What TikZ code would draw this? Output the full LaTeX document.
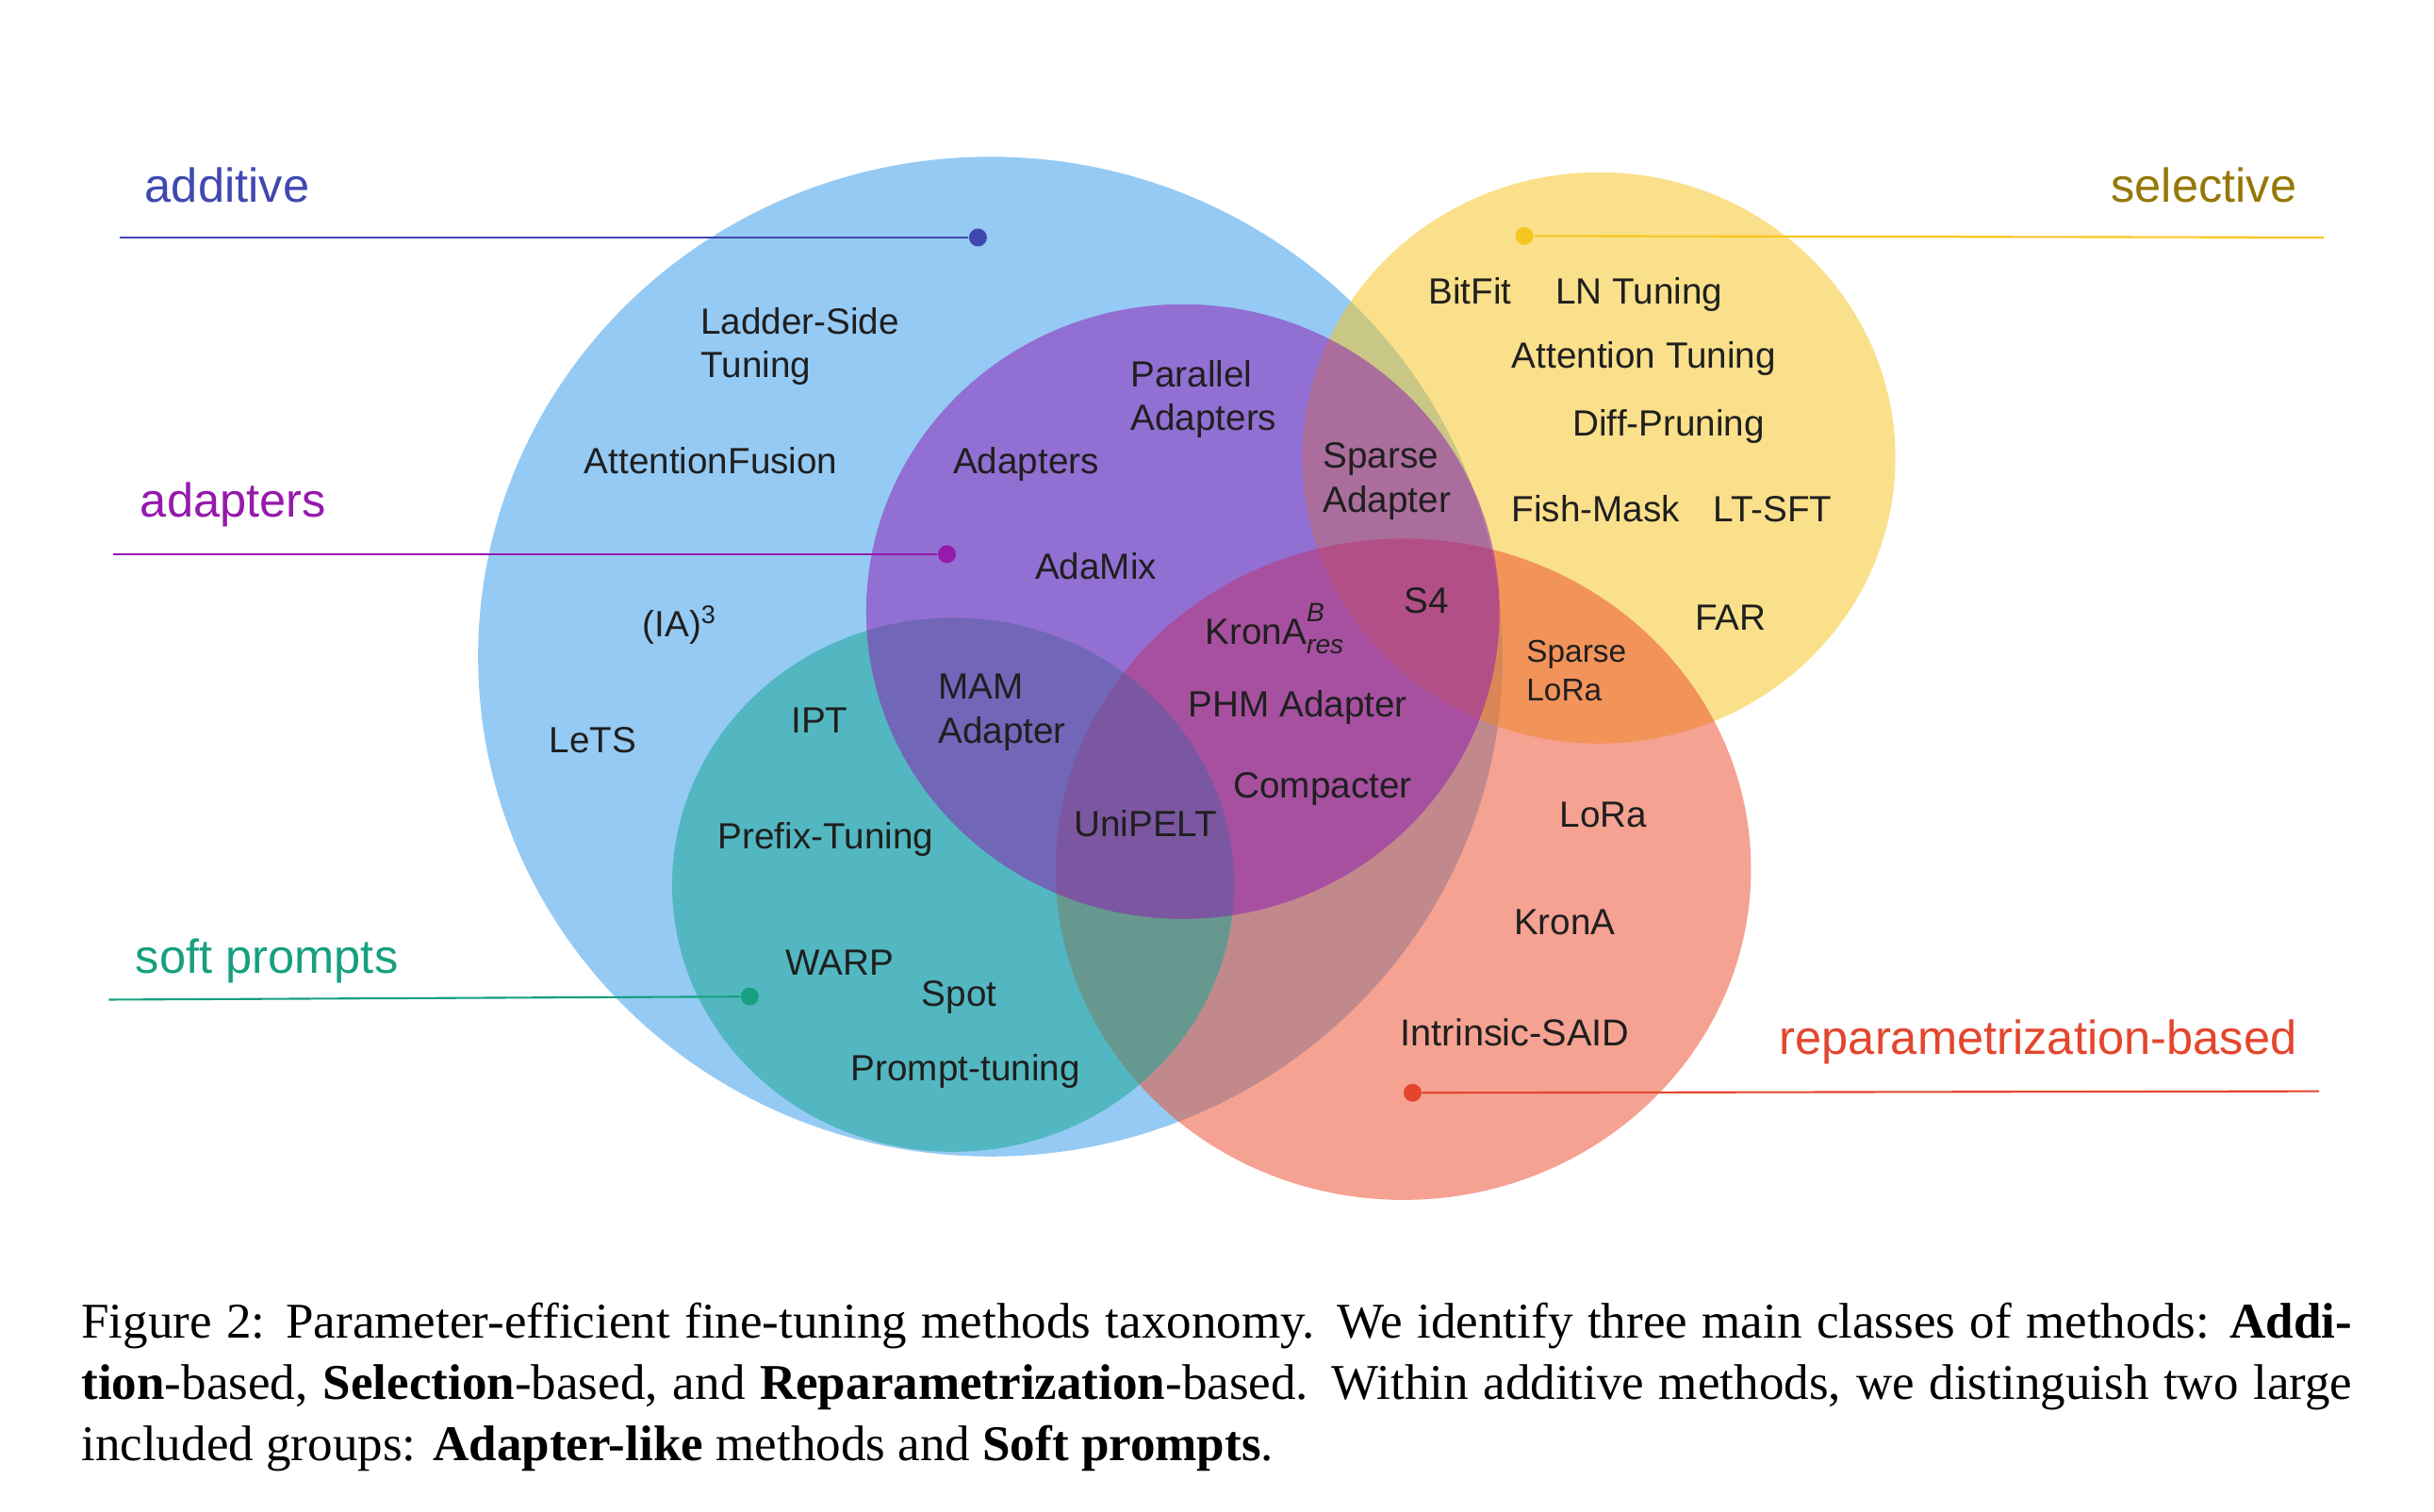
\documentclass[tikz,border=0pt]{standalone}
\usepackage{fontspec}
\setmainfont{Liberation Sans}
\newfontfamily\capfont{Liberation Serif}

\definecolor{addfill}{RGB}{53,155,234}
\definecolor{addline}{RGB}{64,72,176}
\definecolor{adpc}{RGB}{144,28,179}
\definecolor{adptext}{RGB}{150,26,172}
\definecolor{softc}{RGB}{21,166,146}
\definecolor{softtext}{RGB}{22,160,128}
\definecolor{selc}{RGB}{247,197,32}
\definecolor{seltext}{RGB}{150,120,8}
\definecolor{repc}{RGB}{236,78,47}
\definecolor{reptext}{RGB}{228,70,45}

\newcommand{\scripttxt}[1]{{\fontsize{8}{8}\selectfont\textit{#1}}}

\begin{document}
\begin{tikzpicture}[x=0.16467mm, y=-0.16467mm,
  blob/.style={fill opacity=.52},
  meth/.style={font=\fontsize{11}{12.6}\selectfont, text=black!88, inner sep=0, anchor=base},
  pair/.style={meth, font=\fontsize{11}{13.2}\selectfont, align=left, anchor=west},
  cls/.style={font=\fontsize{14.4}{17}\selectfont, inner sep=0},
  dot/.style={circle, inner sep=0, minimum size=1.9mm},
  lead/.style={line width=.6pt}]
\useasboundingbox (0,0) rectangle (1568,974);
\fill[white] (0,0) rectangle (1568,974);
% the five sets
\fill[blob, addfill] (638,423) ellipse [x radius=330, y radius=322];
\fill[blob, selc] (1030,295) ellipse [x radius=191, y radius=184];
\fill[blob, repc] (904,560) ellipse [x radius=224, y radius=213];
\fill[blob, softc] (614,570) ellipse [x radius=181, y radius=172];
\fill[blob, adpc] (762,394) ellipse [x radius=204, y radius=198];

% class labels
\node[cls, text=addline, anchor=base west] (additive) at (93,130) {additive};
\node[dot, fill=addline] (addDot) at (630,153) {};
\coordinate (addEnd) at (77,153);
\draw[lead, addline] (addEnd) -- (addDot);

\node[cls, text=adptext, anchor=base west] (adapters) at (90,333) {adapters};
\node[dot, fill=adptext] (adpDot) at (610,357) {};
\coordinate (adpEnd) at (73,357);
\draw[lead, adptext] (adpEnd) -- (adpDot);

\node[cls, text=softtext, anchor=base west] (soft) at (87,627) {soft prompts};
\node[dot, fill=softtext] (softDot) at (483,642) {};
\coordinate (softEnd) at (70,644);
\draw[lead, softtext] (softEnd) -- (softDot);

\node[cls, text=seltext, anchor=base east] (selective) at (1480,130) {selective};
\node[dot, fill=selc] (selDot) at (982,152) {};
\coordinate (selEnd) at (1497,153);
\draw[lead, selc] (selDot) -- (selEnd);

\node[cls, text=reptext, anchor=base east] (repar) at (1480,679) {reparametrization-based};
\node[dot, fill=reptext] (repDot) at (910,704) {};
\coordinate (repEnd) at (1494,703);
\draw[lead, reptext] (repDot) -- (repEnd);

% methods
\node[pair] (ladder) at (451,223) {Ladder-Side\\Tuning};
\node[meth] (fusion) at (458,305) {AttentionFusion};
\node[meth] (ia3) at (438,410) {(IA)\textsuperscript{3}};
\node[meth] (lets) at (382,485) {LeTS};
\node[meth] (adapt) at (661,305) {Adapters};
\node[pair] (parallel) at (728,257) {Parallel\\Adapters};
\node[meth] (adamix) at (706,373) {AdaMix};
\node[pair] (spadapt) at (852,310) {Sparse\\Adapter};
\node[meth] (bitfit) at (947,196) {BitFit};
\node[meth] (lntune) at (1056,196) {LN Tuning};
\node[meth] (atttune) at (1059,237) {Attention Tuning};
\node[meth] (diffprune) at (1075,281) {Diff-Pruning};
\node[meth] (fishmask) at (1028,336) {Fish-Mask};
\node[meth] (ltsft) at (1142,336) {LT-SFT};
\node[meth] (far) at (1115,406) {FAR};
\node[meth] (sfour) at (919,395) {S4};
\node[meth] (kronres) at (821,415) {KronA\rlap{\raisebox{.63em}{\scripttxt{B}}}\raisebox{-.25em}{\scripttxt{res}}};
\node[pair, font=\fontsize{9.5}{11.6}\selectfont] (splora) at (983,432) {Sparse\\LoRa};
\node[pair] (mam) at (604,459) {MAM\\Adapter};
\node[meth] (ipt) at (528,472) {IPT};
\node[meth] (phm) at (836,462) {PHM Adapter};
\node[meth] (compacter) at (852,514) {Compacter};
\node[meth] (unipelt) at (738,539) {UniPELT};
\node[meth] (prefix) at (532,547) {Prefix-Tuning};
\node[meth] (lora) at (1033,533) {LoRa};
\node[meth] (krona) at (1008,602) {KronA};
\node[meth] (warp) at (541,628) {WARP};
\node[meth] (spot) at (618,648) {Spot};
\node[meth] (prompt) at (622,696) {Prompt-tuning};
\node[meth, font=\fontsize{11.3}{12.6}\selectfont] (said) at (976,674) {Intrinsic-SAID};

% caption
\node[anchor=base west, inner sep=0, text width=24.09cm, align=justify,
  font=\capfont\fontsize{15.1}{18.5}\selectfont] (caption) at (52,862)
  {Figure 2: Parameter-efficient fine-tuning methods taxonomy. We identify three main classes of methods: \textbf{Addi-}\linebreak
  \textbf{tion}-based, \textbf{Selection}-based, and \textbf{Reparametrization}-based. Within additive methods, we distinguish two large\linebreak
  included groups: \textbf{Adapter-like} methods and \textbf{Soft prompts}.};
\end{tikzpicture}
\end{document}
